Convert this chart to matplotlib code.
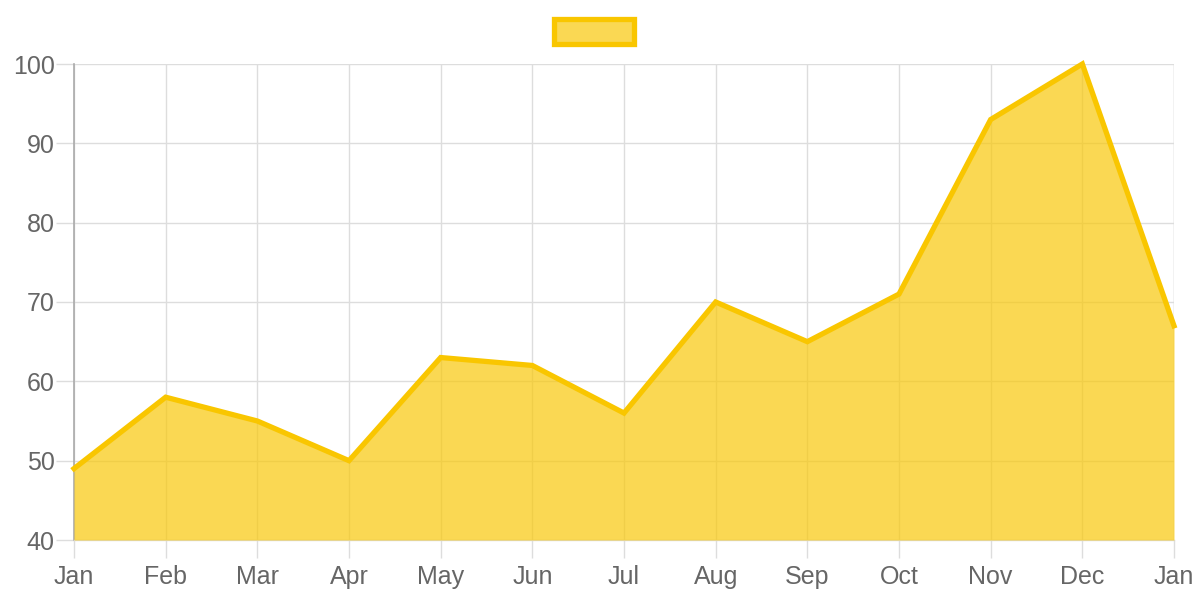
import matplotlib.pyplot as plt
from matplotlib.patches import Rectangle

# chart data
months = ['Jan', 'Feb', 'Mar', 'Apr', 'May', 'Jun', 'Jul', 'Aug', 'Sep', 'Oct', 'Nov', 'Dec', 'Jan']
values = [49, 58, 55, 50, 63, 62, 56, 70, 65, 71, 93, 100, 67]
y_ticks = [40, 50, 60, 70, 80, 90, 100]

line_color = '#f9c600'
fill_color = (249/255, 200/255, 10/255, 0.7)
grid_color = '#dddddd'
text_color = '#666666'

plt.rcParams['font.family'] = ['Liberation Sans', 'DejaVu Sans']

fig = plt.figure(figsize=(12, 6), dpi=100)
ax = fig.add_axes([74/1200, 1 - 540/600, 1100/1200, 476/600])

x = list(range(len(months)))
ax.fill_between(x, values, 40, color=fill_color, linewidth=0, zorder=3)
ax.plot(x, values, color=line_color, linewidth=3.8, zorder=4,
        solid_joinstyle='miter', clip_on=False)

ax.set_xlim(0, len(months) - 1)
ax.set_ylim(40, 100)
ax.set_xticks(x)
ax.set_xticklabels(months)
ax.set_yticks(y_ticks)

ax.grid(True, color=grid_color, linewidth=1, zorder=1)
ax.set_axisbelow(True)
for s in ['top', 'right']:
    ax.spines[s].set_visible(False)
ax.spines['left'].set_color('#aaaaaa')
ax.spines['left'].set_linewidth(1.2)
ax.spines['bottom'].set_color(grid_color)
ax.spines['bottom'].set_linewidth(1)

ax.tick_params(axis='both', colors=grid_color, labelcolor=text_color,
               labelsize=18, length=13, width=1)
ax.tick_params(axis='x', pad=5)
ax.tick_params(axis='y', pad=1)

# right edge grid line
ax.axvline(len(months) - 1, color=grid_color, linewidth=1, zorder=1)

# legend box (empty label)
fig.patches.append(Rectangle((553.5/1200, 1 - 43.5/600), 80/1200, 24/600,
                             transform=fig.transFigure, facecolor=fill_color,
                             edgecolor=line_color, linewidth=3.8))

fig.savefig('out.png', dpi=100)
